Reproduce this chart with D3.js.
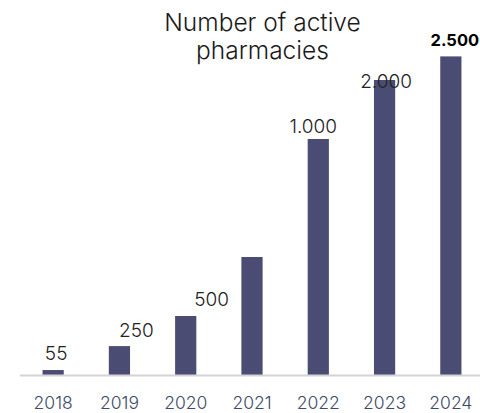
<!DOCTYPE html>
<html><head><meta charset="utf-8">
<script src="https://cdn.jsdelivr.net/npm/d3@7"></script>
<style>body{margin:0;background:#fff}svg{display:block}</style>
</head><body><svg id="c" width="480" height="413"></svg>
<script>
// ---- data ----
const years = ["2018","2019","2020","2021","2022","2023","2024"];
const values = [42, 245, 500, 1000, 2000, 2500, 2700];
const valueLabels = ["55","250","500","","1.000","2.000","2.500"];
const boldLabel = [false,false,false,false,false,false,true];
const titleLines = ["Number of active","pharmacies"];

// ---- layout (not data) ----
const labelDx = [3, 17, 26, 0, -5, 1.5, 4];
const labelDy = [-10, -9.5, -10.5, 0, -6.5, 8, -10];

const svg = d3.select("#c");
const x = d3.scaleBand().domain(years).range([20, 484]).paddingInner(0.68).paddingOuter(0.34);
const y = d3.scaleLinear().domain([0, 2700]).range([375, 56.4]);
const font = "Inter, 'Liberation Sans', Arial, sans-serif";

svg.append("g").selectAll("rect").data(values).join("rect")
  .attr("x", (d,i) => x(years[i]))
  .attr("y", d => y(d))
  .attr("width", x.bandwidth())
  .attr("height", d => y(0) - y(d))
  .attr("fill", "#4a4c74");

const axis = svg.append("g").attr("transform", "translate(0,375.5)")
  .call(d3.axisBottom(x).tickSize(0).tickPadding(0));
axis.select(".domain").attr("d", "M20,0H480").attr("stroke", "#d4d4d6").attr("stroke-width", 2);
axis.selectAll("text").attr("y", 33).attr("dy", 0)
  .attr("font-family", font).attr("font-size", 17.5).attr("font-weight", 300).attr("fill", "#3e4a66");

svg.append("g").selectAll("text").data(valueLabels).join("text")
  .attr("x", (d,i) => x(years[i]) + x.bandwidth()/2 + labelDx[i])
  .attr("y", (d,i) => y(values[i]) + labelDy[i])
  .attr("text-anchor", "middle")
  .attr("font-family", font)
  .attr("font-size", (d,i) => boldLabel[i] ? 16.5 : 19)
  .attr("font-weight", (d,i) => boldLabel[i] ? 700 : 300)
  .attr("fill", (d,i) => boldLabel[i] ? "#000" : "#222")
  .text(d => d);

svg.append("text").attr("x", 262.5).attr("text-anchor", "middle")
  .attr("font-family", font).attr("font-size", 24.5).attr("font-weight", 300).attr("fill", "#1a1a1a")
  .selectAll("tspan").data(titleLines).join("tspan")
  .attr("x", 262.5).attr("y", (d,i) => 31 + i*28)
  .text(d => d);
</script></body></html>
